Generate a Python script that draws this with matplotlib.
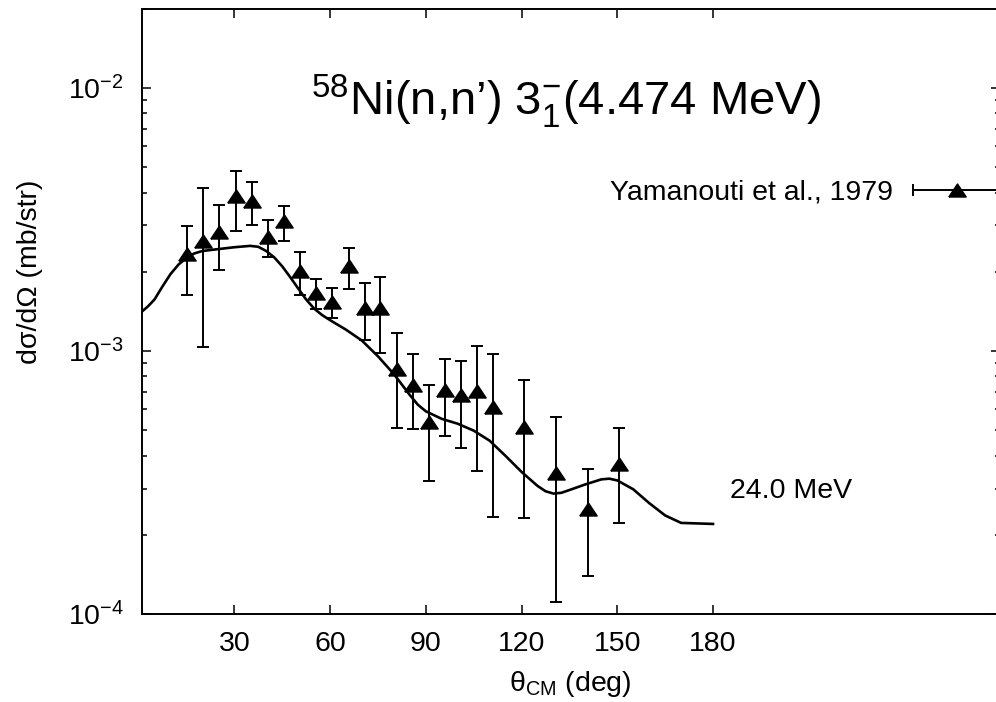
import numpy as np
import matplotlib.pyplot as plt
from matplotlib.path import Path
from matplotlib.ticker import FixedLocator, NullFormatter

plt.rcParams['font.family'] = ['Liberation Sans', 'DejaVu Sans']
plt.rcParams['mathtext.fontset'] = 'custom'
plt.rcParams['mathtext.rm'] = 'Liberation Sans'
plt.rcParams['mathtext.it'] = 'Liberation Sans:italic'
plt.rcParams['mathtext.bf'] = 'Liberation Sans:bold'

# Yamanouti et al., 1979 data (CM angle, cross section, error bar limits)
exp_angle = [15.2, 20.3, 25.3, 30.4, 35.5, 40.5, 45.6, 50.6, 55.7, 60.7, 65.8, 70.8,
             75.8, 80.9, 85.9, 91.0, 96.1, 101.0, 106.0, 111.0, 120.8, 130.8, 140.7, 150.5]
exp_xs = [2.33e-3, 2.61e-3, 2.84e-3, 3.87e-3, 3.73e-3, 2.72e-3, 3.11e-3, 2.02e-3,
          1.66e-3, 1.54e-3, 2.11e-3, 1.46e-3, 1.46e-3, 8.56e-4, 7.44e-4, 5.39e-4,
          7.10e-4, 6.79e-4, 7.06e-4, 6.10e-4, 5.14e-4, 3.43e-4, 2.51e-4, 3.71e-4]
exp_hi = [2.98e-3, 4.15e-3, 3.59e-3, 4.84e-3, 4.38e-3, 3.14e-3, 3.57e-3, 2.37e-3,
          1.88e-3, 1.74e-3, 2.47e-3, 1.81e-3, 1.91e-3, 1.17e-3, 9.71e-4, 7.42e-4,
          9.32e-4, 9.13e-4, 1.045e-3, 9.77e-4, 7.77e-4, 5.63e-4, 3.55e-4, 5.10e-4]
exp_lo = [1.63e-3, 1.04e-3, 2.04e-3, 2.86e-3, 3.01e-3, 2.27e-3, 2.61e-3, 1.63e-3,
          1.44e-3, 1.33e-3, 1.72e-3, 1.10e-3, 9.83e-4, 5.11e-4, 5.05e-4, 3.20e-4,
          4.77e-4, 4.27e-4, 3.50e-4, 2.33e-4, 2.32e-4, 1.11e-4, 1.40e-4, 2.22e-4]

# calculation at 24.0 MeV
calc_angle = [1, 3, 5, 7.5, 10, 12.5, 15, 17.5, 20, 25, 30, 35, 37.5, 40, 42.5, 45,
              47.5, 50, 52.5, 55, 57.5, 60, 65, 70, 75, 80, 85, 87.5, 90, 95, 100, 105,
              110, 115, 120, 125, 127.5, 130, 132.5, 135, 140, 145, 147.5, 150, 155,
              160, 165, 170, 175, 180]
calc_xs = [1.41e-3, 1.48e-3, 1.57e-3, 1.76e-3, 1.96e-3, 2.13e-3, 2.26e-3, 2.35e-3,
           2.40e-3, 2.44e-3, 2.48e-3, 2.51e-3, 2.49e-3, 2.40e-3, 2.27e-3, 2.10e-3,
           1.91e-3, 1.73e-3, 1.57e-3, 1.45e-3, 1.37e-3, 1.31e-3, 1.205e-3, 1.095e-3,
           9.55e-4, 8.17e-4, 6.80e-4, 6.25e-4, 5.90e-4, 5.52e-4, 5.29e-4, 4.98e-4,
           4.56e-4, 3.99e-4, 3.47e-4, 3.07e-4, 2.93e-4, 2.87e-4, 2.89e-4, 2.96e-4,
           3.11e-4, 3.25e-4, 3.27e-4, 3.22e-4, 2.98e-4, 2.64e-4, 2.37e-4, 2.22e-4,
           2.21e-4, 2.20e-4]

xticks = [30, 60, 90, 120, 150, 180]
yticks = [1e-4, 1e-3, 1e-2]
ytick_labels = ['$10^{-4}$', '$10^{-3}$', '$10^{-2}$']

W, H = 996, 702
fig = plt.figure(figsize=(W / 100, H / 100), dpi=100)
ax = fig.add_axes([141.75 / W, 88 / H, 858.5 / W, 605.2 / H])

# wide flat triangle like gnuplot's
tri = Path([(-1, -0.75), (1, -0.75), (0, 0.75), (-1, -0.75)])

ax.plot(calc_angle, calc_xs, color='black', lw=1.9, solid_joinstyle='round')

y = np.array(exp_xs)
yerr = [y - np.array(exp_lo), np.array(exp_hi) - y]
ax.errorbar(exp_angle, exp_xs, yerr=yerr, fmt='none', ecolor='black', elinewidth=1.4,
            capsize=4, capthick=1.4)
ax.plot(exp_angle, exp_xs, linestyle='none', marker=tri, markersize=12.5,
        color='black')

ax.set_yscale('log')
ax.set_xlim(1, 270)
ax.set_ylim(1e-4, 2e-2)

ax.xaxis.set_major_locator(FixedLocator(xticks))
ax.xaxis.set_minor_locator(FixedLocator([]))
ax.set_xticklabels([str(t) for t in xticks])
ax.yaxis.set_major_locator(FixedLocator(yticks))
ax.set_yticklabels(ytick_labels)
minor = [m * 10.0 ** e for e in (-4, -3, -2) for m in range(2, 10) if m * 10.0 ** e <= 2e-2]
ax.yaxis.set_minor_locator(FixedLocator(minor))
ax.yaxis.set_minor_formatter(NullFormatter())

ax.tick_params(which='both', direction='in', top=True, right=True, width=1.1,
               labelsize=20.5, color='black')
ax.tick_params(which='major', length=6.5)
ax.tick_params(which='minor', length=3.3)
ax.tick_params(axis='x', pad=12)
ax.tick_params(axis='y', pad=13)
for s in ax.spines.values():
    s.set_linewidth(1.4)

fig.text(30 / W, 1 - 272 / H, 'dσ/dΩ (mb/str)', rotation=90, ha='center', va='center',
         fontsize=20.5)
fig.text(570 / W, 1 - 684 / H, 'θ$_{\\mathrm{CM}}$ (deg)', ha='center', va='center',
         fontsize=20.5)

fig.text(566 / W, 1 - 115 / H, '$^{58}$Ni(n,n’) 3$_1^{-}$(4.474 MeV)', ha='center',
         va='baseline', fontsize=34)

ax.text(185.3, 2.76e-4, '24.0 MeV', ha='left', va='baseline', fontsize=20.5)

# legend
fig.text(893 / W, 1 - 200 / H, 'Yamanouti et al., 1979', ha='right', va='baseline',
         fontsize=20.5)
ly = 1 - 190 / H
fig.lines.append(plt.Line2D([913 / W, 1.0], [ly, ly], transform=fig.transFigure,
                            color='black', lw=1.4))
fig.lines.append(plt.Line2D([913 / W, 913 / W], [ly - 5 / H, ly + 5 / H],
                            transform=fig.transFigure, color='black', lw=1.4))
fig.lines.append(plt.Line2D([957 / W], [ly], transform=fig.transFigure, marker=tri,
                            markersize=12.5, color='black', linestyle='none'))

fig.savefig('out.png', dpi=100)
